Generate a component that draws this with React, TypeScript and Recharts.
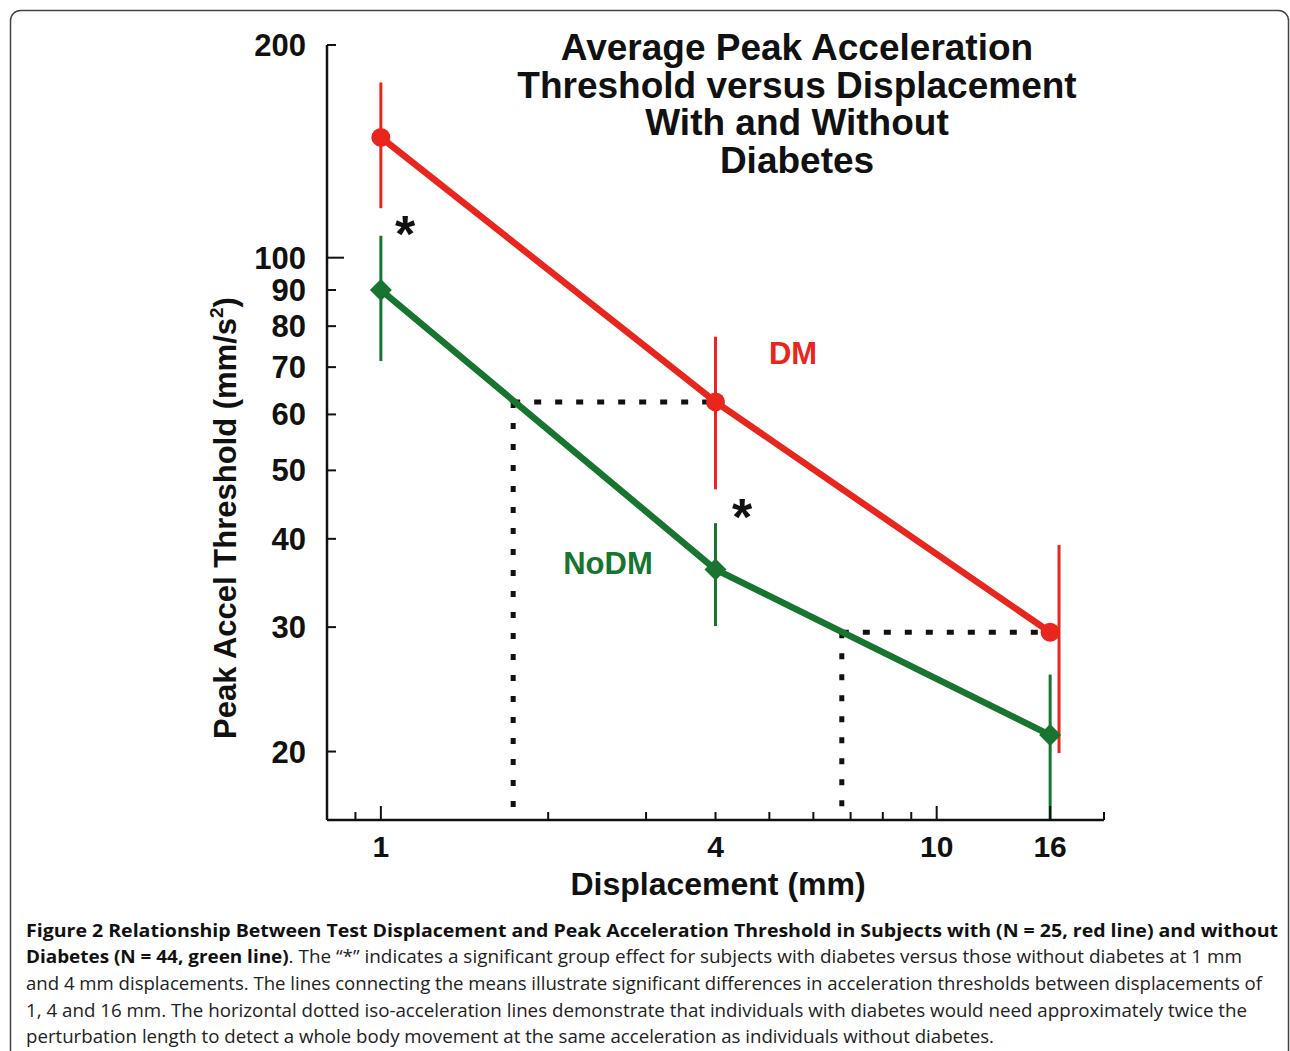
import { ScatterChart, Scatter, XAxis, YAxis, ErrorBar, ReferenceLine } from 'recharts'

const RED = '#e8261e'
const GREEN = '#17752f'
const FONT = '"Liberation Sans", Arial, Helvetica, sans-serif'

// means at each displacement (mm)
const displacement = [1, 4, 16]
const dmMean = [148, 62.5, 29.5]
const dmLow = [117.5, 47, 19.9]
const dmHigh = [177, 77.3, 39.2]
// the red bar at 16 mm is drawn a little right of its point
const dmBarX = [1, 4, 16.6]
const noDmMean = [90, 36.2, 21.1]
const noDmLow = [71.4, 30.1, 16]
const noDmHigh = [107.4, 42.1, 25.7]

// dotted iso-acceleration guides
const isoAccel = [62.5, 29.5]
const isoFrom = [1.73, 6.75]
const isoTo = [4, 16]

const xTicks = [0.9, 1, 2, 3, 4, 5, 6, 7, 8, 9, 10, 16, 20]
const xLabels = [1, 4, 10, 16]
const xMajor = [1, 10, 16]
const yTicks = [20, 30, 40, 50, 60, 70, 80, 90, 100, 200]

const titleLines = [
  'Average Peak Acceleration',
  'Threshold versus Displacement',
  'With and Without',
  'Diabetes',
]

const captionLines = [
  'and 4 mm displacements. The lines connecting the means illustrate significant differences in acceleration thresholds between displacements of',
  '1, 4 and 16 mm. The horizontal dotted iso-acceleration lines demonstrate that individuals with diabetes would need approximately twice the',
  'perturbation length to detect a whole body movement at the same acceleration as individuals without diabetes.',
]
const captionEnds = [1262, 1247, 994]

const dmData = displacement.map((x, i) => ({ x, y: dmMean[i] }))
const dmBars = dmBarX.map((x, i) => ({ x, y: dmMean[i], err: [dmMean[i] - dmLow[i], dmHigh[i] - dmMean[i]] }))
const noDmData = displacement.map((x, i) => ({
  x,
  y: noDmMean[i],
  err: [noDmMean[i] - noDmLow[i], noDmHigh[i] - noDmMean[i]],
}))

function XTick({ x, y, payload }: any) {
  const v = payload.value
  const len = xMajor.includes(v) ? 14 : 8
  return (
    <g>
      <line x1={x} x2={x} y1={y} y2={y - len} stroke="#111" strokeWidth={2} />
      {xLabels.includes(v) && (
        <text x={x} y={y + 37} textAnchor="middle" fontFamily={FONT} fontWeight="bold" fontSize={30} fill="#111">
          {v}
        </text>
      )}
    </g>
  )
}

function YTick({ x, y, payload }: any) {
  const v = payload.value
  const len = v === 100 ? 17 : 9
  return (
    <g>
      <line x1={x} x2={x + len} y1={y} y2={y} stroke="#111" strokeWidth={2} />
      <text x={306} y={y + 11} textAnchor="end" fontFamily={FONT} fontWeight="bold" fontSize={31} fill="#111">
        {v}
      </text>
    </g>
  )
}

function DmDot({ cx, cy }: any) {
  return <circle cx={cx} cy={cy} r={9.5} fill={RED} />
}

function NoDmDot({ cx, cy }: any) {
  return <path d={`M${cx},${cy - 11} L${cx + 11},${cy} L${cx},${cy + 11} L${cx - 11},${cy} Z`} fill={GREEN} />
}

export default function App() {
  return (
    <div style={{ position: 'absolute', left: 0, top: 0, width: 1290, height: 1051, background: '#fff', overflow: 'hidden' }}>
      <ScatterChart width={1290} height={900} margin={{ top: 45, right: 186, bottom: 20, left: 247 }}>
        <XAxis
          dataKey="x"
          type="number"
          scale="log"
          domain={[0.8, 20]}
          allowDataOverflow
          ticks={xTicks}
          interval={0}
          tick={<XTick />}
          tickLine={false}
          tickSize={0}
          tickMargin={0}
          height={60}
          axisLine={{ stroke: '#111', strokeWidth: 2.5 }}
        />
        <YAxis
          dataKey="y"
          type="number"
          scale="log"
          domain={[16, 200]}
          allowDataOverflow
          ticks={yTicks}
          interval={0}
          tick={<YTick />}
          tickLine={false}
          tickSize={0}
          tickMargin={0}
          width={80}
          axisLine={{ stroke: '#111', strokeWidth: 2.5 }}
        />
        {isoAccel.map((a, i) => (
          <ReferenceLine
            key={'h' + i}
            segment={[{ x: isoFrom[i], y: a }, { x: isoTo[i], y: a }]}
            stroke="#111"
            strokeWidth={5}
            strokeDasharray="7 14"
          />
        ))}
        {isoAccel.map((a, i) => (
          <ReferenceLine
            key={'v' + i}
            segment={[{ x: isoFrom[i], y: a }, { x: isoFrom[i], y: 16 }]}
            stroke="#111"
            strokeWidth={5}
            strokeDasharray="6 15"
          />
        ))}
        <Scatter data={dmBars} dataKey="y" shape={() => <g />} isAnimationActive={false}>
          <ErrorBar dataKey="err" direction="y" width={0} stroke={RED} strokeWidth={3} isAnimationActive={false} />
        </Scatter>
        <Scatter
          data={dmData}
          dataKey="y"
          fill={RED}
          line={{ stroke: RED, strokeWidth: 6.5 }}
          shape={<DmDot />}
          isAnimationActive={false}
        />
        <Scatter
          data={noDmData}
          dataKey="y"
          fill={GREEN}
          line={{ stroke: GREEN, strokeWidth: 6.5 }}
          shape={<NoDmDot />}
          isAnimationActive={false}
        >
          <ErrorBar dataKey="err" direction="y" width={0} stroke={GREEN} strokeWidth={3} isAnimationActive={false} />
        </Scatter>
      </ScatterChart>

      <svg width={1290} height={1051} style={{ position: 'absolute', left: 0, top: 0, pointerEvents: 'none' }}>
        <rect x={10.5} y={10.5} width={1278} height={1080} rx={10} fill="none" stroke="#444" strokeWidth={1.5} />
        <g fontFamily={FONT} fontWeight="bold" fill="#111">
          {titleLines.map((t, i) => (
            <text key={t} x={797} y={60 + i * 37.5} textAnchor="middle" fontSize={37}>
              {t}
            </text>
          ))}
          <text x={718} y={895} textAnchor="middle" fontSize={32}>
            Displacement (mm)
          </text>
          <text transform="translate(236,518) rotate(-90)" textAnchor="middle" fontSize={31}>
            Peak Accel Threshold (mm/s
            <tspan fontSize={19} dy={-13}>2</tspan>
            <tspan dy={13}>)</tspan>
          </text>
          <text x={793} y={364} textAnchor="middle" fontSize={31} fill={RED}>
            DM
          </text>
          <text x={608} y={574} textAnchor="middle" fontSize={31} fill={GREEN}>
            NoDM
          </text>
          <text x={405} y={252} textAnchor="middle" fontSize={52}>
            *
          </text>
          <text x={742} y={535} textAnchor="middle" fontSize={52}>
            *
          </text>
        </g>
        <g fontFamily='"Open Sans", sans-serif' fontSize={18} fill="#222">
          <text x={26} y={937} textLength={1252} lengthAdjust="spacingAndGlyphs" fontWeight="bold" fill="#111">
            Figure 2 Relationship Between Test Displacement and Peak Acceleration Threshold in Subjects with (N = 25, red line) and without
          </text>
          <text x={26} y={963} textLength={1216} lengthAdjust="spacingAndGlyphs">
            <tspan fontWeight="bold" fill="#111">Diabetes (N = 44, green line)</tspan>. The “*” indicates a significant group effect for subjects
            with diabetes versus those without diabetes at 1 mm
          </text>
          {captionLines.map((t, i) => (
            <text key={i} x={26} y={990 + i * 26.7} textLength={captionEnds[i] - 26} lengthAdjust="spacingAndGlyphs">
              {t}
            </text>
          ))}
        </g>
      </svg>
    </div>
  )
}
